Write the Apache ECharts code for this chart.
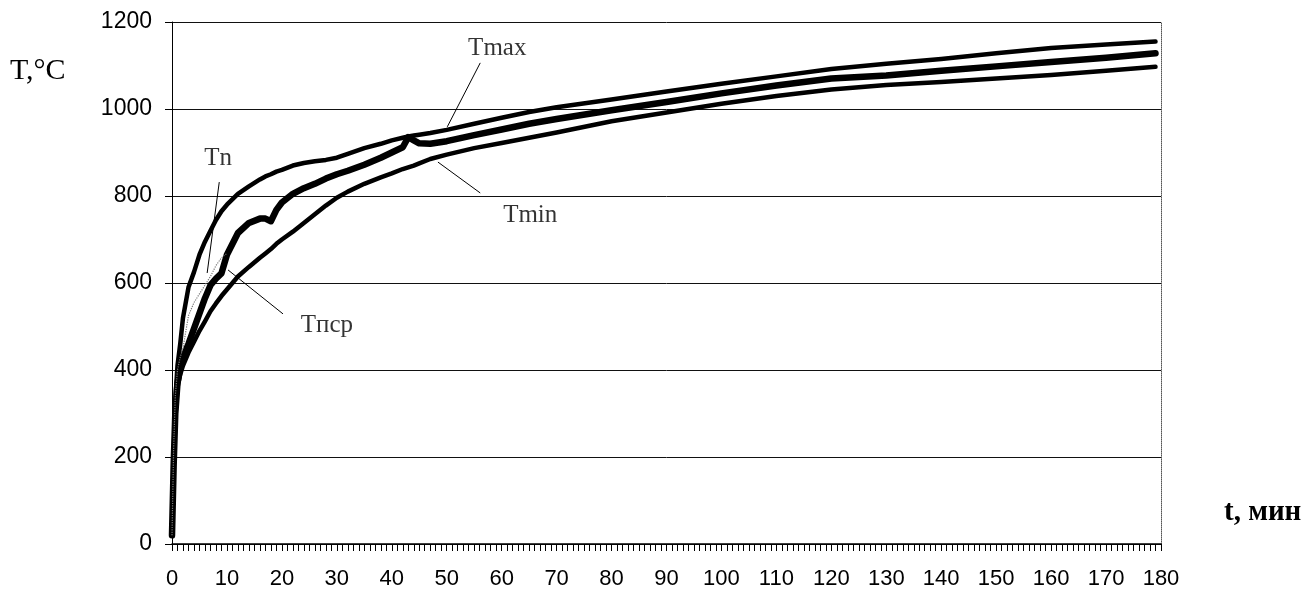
<!DOCTYPE html>
<html>
<head>
<meta charset="utf-8">
<script src="https://cdn.jsdelivr.net/npm/echarts@6/dist/echarts.min.js"></script>
<style>
html,body{margin:0;padding:0;background:#fff;}
#chart{width:1315px;height:598px;}
</style>
</head>
<body>
<div id="chart"></div>
<script>
// time, minutes
var time = [0, 0.3, 0.6, 1, 1.5, 2, 3, 4, 5, 6, 7, 8, 9, 10, 12, 14, 16, 17, 18, 19, 20, 22, 24, 26, 28, 30, 32, 35, 38, 40, 42, 43, 44, 45, 47, 50, 55, 60, 65, 70, 80, 90, 100, 110, 120, 130, 140, 150, 160, 170, 179];
var tMax = [20, 200, 330, 410, 460, 520, 590, 625, 665, 695, 720, 745, 765, 780, 805, 822, 838, 845, 850, 856, 860, 870, 876, 880, 883, 888, 897, 910, 920, 928, 934, 937, 939, 941, 945, 952, 966, 980, 993, 1004, 1022, 1040, 1058, 1075, 1092, 1104, 1115, 1128, 1140, 1148, 1155];
var tPsr = [20, 180, 300, 370, 405, 430, 460, 495, 530, 565, 595, 610, 622, 665, 715, 738, 748, 748, 742, 768, 785, 805, 818, 828, 840, 850, 858, 872, 888, 900, 912, 935, 928, 921, 920, 926, 940, 953, 966, 977, 997, 1016, 1036, 1054, 1070, 1077, 1088, 1098, 1108, 1118, 1128];
var tMin = [20, 170, 290, 360, 390, 410, 440, 465, 490, 512, 535, 553, 570, 585, 615, 637, 658, 668, 678, 690, 700, 718, 738, 758, 778, 796, 810, 828, 843, 852, 862, 866, 870, 875, 885, 895, 910, 922, 934, 946, 972, 992, 1012, 1030, 1045, 1055, 1062, 1070, 1078, 1088, 1097];
var tnTime = [0, 0.3, 0.6, 1, 1.5, 2, 3, 4, 5, 6, 7, 8, 9, 10];
var tnVals = [20, 220, 340, 400, 430, 450, 525, 555, 575, 595, 615, 640, 658, 668];

// annotations (data coordinates)
var annNames = ['Tmax', 'Tmin', 'Tn', 'Tпср'];
var annPos = [[59.2, 1140], [65.2, 756], [8.4, 887], [28.2, 503]];
var annFrom = [[56.1, 1106], [56.1, 807], [8.6, 832], [20.2, 529]];
var annTo = [[50.1, 959], [48.4, 878], [6.4, 623], [10.2, 630]];

var xTicks = {min: 0, max: 180, interval: 10};
var yTicks = {min: 0, max: 1200, interval: 200};

function pairs(xs, ys) { return xs.map(function (x, i) { return [x, ys[i]]; }); }
function plain(v) { return String(v); }

var chart = echarts.init(document.getElementById('chart'), null, {renderer: 'canvas'});
var black = '#000';
var lineBase = {type: 'line', showSymbol: false, symbol: 'none', smooth: false, silent: true, animation: false, xAxisIndex: 0, yAxisIndex: 0};

var option = {
  backgroundColor: '#fff',
  animation: false,
  grid: {left: 172, right: 154, top: 22, bottom: 54, containLabel: false},
  xAxis: {
    type: 'value', min: xTicks.min, max: xTicks.max, interval: xTicks.interval,
    axisLine: {show: true, onZero: false, lineStyle: {color: black, width: 1.5}},
    axisTick: {show: true, length: 7, lineStyle: {color: black, width: 1}},
    minorTick: {show: true, splitNumber: 10, length: 7, lineStyle: {color: black, width: 1}},
    axisLabel: {color: black, fontSize: 22, fontFamily: 'Liberation Sans', margin: 24, formatter: plain},
    splitLine: {show: false}
  },
  yAxis: [{
    type: 'value', min: yTicks.min, max: yTicks.max, interval: yTicks.interval,
    axisLine: {show: true, lineStyle: {color: black, width: 1}},
    axisTick: {show: true, length: 7, lineStyle: {color: black}},
    axisLabel: {color: black, fontSize: 23, fontFamily: 'Liberation Sans', margin: 20, formatter: plain},
    splitLine: {show: true, lineStyle: {color: '#111', width: 1}}
  }, {
    type: 'value', min: yTicks.min, max: yTicks.max, interval: yTicks.interval, position: 'right',
    axisLine: {show: true, lineStyle: {color: '#555', width: 1, type: 'dotted'}},
    axisTick: {show: false}, axisLabel: {show: false}, splitLine: {show: false}
  }],
  graphic: [
    {type: 'text', left: 10, top: 56, style: {text: 'T,°C', font: '30px "Liberation Serif"', fill: black}},
    {type: 'text', left: 1224, top: 498, style: {text: 't, мин', font: 'bold 29px "Liberation Serif"', fill: black}}
  ],
  series: [
    Object.assign({}, lineBase, {name: 'Tmin', data: pairs(time, tMin), lineStyle: {color: black, width: 4.5, cap: 'round', join: 'round'}}),
    Object.assign({}, lineBase, {name: 'Tmax', data: pairs(time, tMax), lineStyle: {color: black, width: 4.5, cap: 'round', join: 'round'}}),
    Object.assign({}, lineBase, {name: 'Tпср', data: pairs(time, tPsr), lineStyle: {color: black, width: 6.5, cap: 'round', join: 'round'}}),
    Object.assign({}, lineBase, {name: 'Tn', data: pairs(tnTime, tnVals), lineStyle: {color: '#777', width: 1.2, type: 'dotted'}}),
    Object.assign({}, lineBase, {
      name: 'leaders', data: [],
      markLine: {
        silent: true, symbol: ['none', 'none'], animation: false,
        label: {show: false},
        lineStyle: {color: black, width: 1, type: 'solid'},
        data: annFrom.map(function (f, i) { return [{coord: f}, {coord: annTo[i]}]; })
      }
    }),
    {
      type: 'scatter', name: 'labels', silent: true, animation: false, symbolSize: 1,
      itemStyle: {color: 'rgba(0,0,0,0)'},
      data: annPos.map(function (p, i) { return {name: annNames[i], value: p}; }),
      label: {show: true, position: 'inside', formatter: '{b}', color: black, fontSize: 25, fontFamily: 'Liberation Serif'}
    }
  ]
};
chart.setOption(option);
</script>
</body>
</html>
